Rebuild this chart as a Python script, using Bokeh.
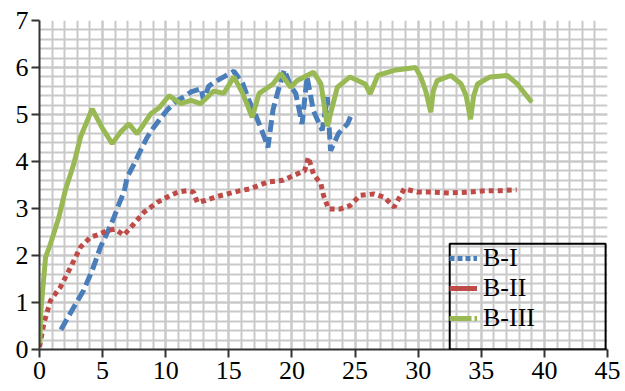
from bokeh.plotting import figure
from bokeh.models import (Range1d, SingleIntervalTicker, Legend, LegendItem,
                          BoxAnnotation)
from bokeh.embed import file_html
from bokeh.resources import INLINE

# ---- data ----
b1_x = [1.7, 2.5, 3.5, 4.2, 4.83, 5.4, 5.9, 6.3, 6.7, 6.95, 7.5, 8.0, 8.5, 9.06, 9.6,
        10.1, 10.9, 11.5, 12.0, 12.8, 13.0, 13.4, 13.8, 14.6, 15.4, 16.1, 16.6, 17.2,
        17.7, 18.1, 18.5, 18.9, 19.4, 19.9, 20.3, 20.8, 21.2, 21.7, 22.4, 22.8, 23.06,
        23.7, 24.4, 24.8]
b1_y = [0.42, 0.8, 1.26, 1.7, 2.18, 2.5, 2.81, 3.1, 3.35, 3.67, 3.95, 4.23, 4.5, 4.73, 4.92,
        5.09, 5.3, 5.38, 5.48, 5.55, 5.3, 5.6, 5.68, 5.8, 5.92, 5.66, 5.3, 4.94,
        4.6, 4.3, 5.1, 5.5, 5.95, 5.6, 5.45, 4.8, 5.8, 5.08, 4.66, 5.37, 4.23,
        4.6, 4.8, 5.05]

b2_x = [0.0, 0.34, 0.87, 1.3, 1.66, 2.46, 3.25, 4.04, 4.7, 5.36, 6.0, 6.68, 7.47, 8.27,
        9.32, 10.38, 11.0, 11.7, 12.2, 12.5, 13.15, 14.0, 14.87, 15.9, 16.7, 18.04, 19.3,
        20.7, 21.0, 21.3, 21.7, 22.3, 22.5, 22.9, 23.85, 24.6, 25.4, 26.5, 27.3, 28.1,
        28.9, 29.9, 31.0, 32.5, 34.0, 35.5, 36.5, 37.8]
b2_y = [0.05, 0.55, 1.04, 1.2, 1.33, 1.75, 2.18, 2.39, 2.45, 2.53, 2.56, 2.43, 2.67, 2.92,
        3.13, 3.28, 3.35, 3.38, 3.35, 3.13, 3.17, 3.25, 3.31, 3.38, 3.42, 3.56, 3.6,
        3.77, 3.8, 4.09, 3.74, 3.52, 3.28, 2.99, 2.99, 3.06, 3.28, 3.31, 3.24, 3.03,
        3.42, 3.35, 3.35, 3.33, 3.35, 3.38, 3.38, 3.4]

b3_x = [0.02, 0.1, 0.48, 0.87, 1.53, 2.06, 2.72, 3.25, 4.17, 5.0, 5.76, 6.4, 7.08, 7.74,
        8.8, 9.5, 10.25, 11.2, 12.0, 12.76, 13.8, 14.6, 15.4, 16.1, 16.85, 17.4, 18.5,
        19.1, 19.9, 20.4, 21.7, 22.3, 22.8, 23.6, 24.6, 25.8, 26.2, 26.8, 28.1, 29.8,
        30.2, 30.6, 31.0, 31.2, 31.5, 32.6, 33.4, 33.8, 34.15, 34.4, 34.7, 35.7, 37.06,
        37.85, 39.0]
b3_y = [0.13, 0.8, 1.96, 2.25, 2.81, 3.4, 3.95, 4.52, 5.12, 4.7, 4.38, 4.62, 4.8, 4.59,
        5.01, 5.15, 5.4, 5.23, 5.3, 5.23, 5.5, 5.45, 5.8, 5.45, 4.94, 5.45, 5.65,
        5.87, 5.58, 5.72, 5.9, 5.65, 4.75, 5.58, 5.8, 5.65, 5.44, 5.83, 5.94, 6.0,
        5.8, 5.5, 5.05, 5.5, 5.72, 5.83, 5.65, 5.4, 4.9, 5.4, 5.65, 5.8, 5.83,
        5.65, 5.26]

labels = ["B-I", "B-II", "B-III"]
colors = ["#4a7ebb", "#be4b48", "#98b954"]

FONT = "Liberation Serif"
NAN = float("nan")

p = figure(width=625, height=391, output_backend="svg", toolbar_location=None,
           x_range=Range1d(0, 45), y_range=Range1d(0, 7),
           min_border_left=39, min_border_right=18, min_border_top=20,
           min_border_bottom=42)
p.outline_line_color = None
p.background_fill_color = "white"

# axes / ticks
p.xaxis.ticker = SingleIntervalTicker(interval=5, num_minor_ticks=5)
p.yaxis.ticker = SingleIntervalTicker(interval=1, num_minor_ticks=5)
for ax in (p.xaxis[0], p.yaxis[0]):
    ax.axis_line_color = "#333333"
    ax.axis_line_width = 2
    ax.major_tick_line_color = "#333333"
    ax.major_tick_line_width = 2
    ax.major_tick_out = 8
    ax.major_tick_in = 0
    ax.minor_tick_out = 0
    ax.minor_tick_in = 0
    ax.major_label_text_font = FONT
    ax.major_label_text_font_size = "26px"
    ax.major_label_text_color = "black"
p.xaxis.major_label_standoff = 4
p.yaxis.major_label_standoff = 3

# grid
for g in (p.xgrid[0], p.ygrid[0]):
    g.grid_line_color = "#c9c9c9"
    g.grid_line_width = 2
    g.minor_grid_line_color = "#c9c9c9"
    g.minor_grid_line_width = 2

# series
r1 = p.line(b1_x, b1_y, line_color=colors[0], line_width=5, line_dash="12 5")
r2 = p.line(b2_x, b2_y, line_color=colors[1], line_width=5, line_dash="5 4")
r3 = p.line(b3_x, b3_y, line_color=colors[2], line_width=5)

# legend samples (styles as drawn in the reference legend)
d1 = p.line([NAN], [NAN], line_color=colors[0], line_width=5, line_dash="5 3")
d2 = p.line([NAN], [NAN], line_color=colors[1], line_width=5)
d3 = p.line([NAN], [NAN], line_color=colors[2], line_width=5, line_dash="22 3 3 3")

legend = Legend(items=[LegendItem(label=labels[0], renderers=[d1]),
                       LegendItem(label=labels[1], renderers=[d2]),
                       LegendItem(label=labels[2], renderers=[d3])],
                location=(410, 16), padding=0, margin=0, spacing=0,
                glyph_width=28, glyph_height=24, label_height=24,
                label_standoff=6,
                label_text_font=FONT, label_text_font_size="26px",
                label_text_color="black",
                background_fill_alpha=0, border_line_alpha=0)
p.add_layout(legend)

p.add_layout(BoxAnnotation(left=32.5, right=44.85, bottom=0.0, top=2.25,
                           fill_alpha=0, line_color="black", line_width=2,
                           line_alpha=1))

open("out.html", "w").write(file_html(p, INLINE))
